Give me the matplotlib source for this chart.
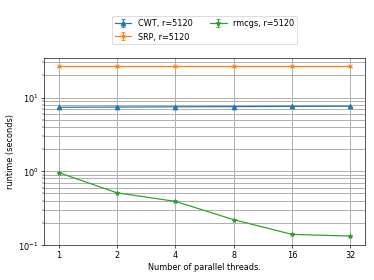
import numpy as np
import matplotlib
matplotlib.use("Agg")
import matplotlib.pyplot as plt
from matplotlib.ticker import NullLocator

# data
threads = [1, 2, 4, 8, 16, 32]
cwt = [7.4, 7.45, 7.5, 7.55, 7.6, 7.65]
srp = [26.5, 26.5, 26.5, 26.5, 26.5, 26.5]
rmcgs = [0.96, 0.51, 0.39, 0.22, 0.139, 0.132]
cwt_err = [0.15, 0.15, 0.15, 0.15, 0.15, 0.15]
srp_err = [0.8, 0.8, 0.8, 0.8, 0.8, 0.8]
rmcgs_err = [0.02, 0.01, 0.01, 0.005, 0.004, 0.004]

# drawn at 6.4x4.8 and scaled down to 374x280
fig = plt.figure(figsize=(6.4, 4.8), dpi=58.44)
ax = fig.add_axes([0.118, 0.125, 0.858, 0.668])

ax.errorbar(threads, cwt, yerr=cwt_err, marker="^", capsize=3, label="CWT, r=5120")
ax.errorbar(threads, srp, yerr=srp_err, marker="x", capsize=3, label="SRP, r=5120")
ax.errorbar(threads, rmcgs, yerr=rmcgs_err, marker="*", capsize=3, label="rmcgs, r=5120")

ax.set_xscale("log", base=2)
ax.set_yscale("log")
ax.set_xticks(threads)
ax.set_xticklabels([str(t) for t in threads])
ax.xaxis.set_minor_locator(NullLocator())
ax.set_ylim(0.1, 35)
ax.grid(True, which="both", color="#b0b0b0", linewidth=1.2)
ax.set_xlabel("Number of parallel threads.")
ax.set_ylabel("runtime (seconds)")
ax.legend(loc="upper center", bbox_to_anchor=(0.5, 1.245), ncol=2, columnspacing=2.2)

fig.savefig("out.png", dpi=58.44)
